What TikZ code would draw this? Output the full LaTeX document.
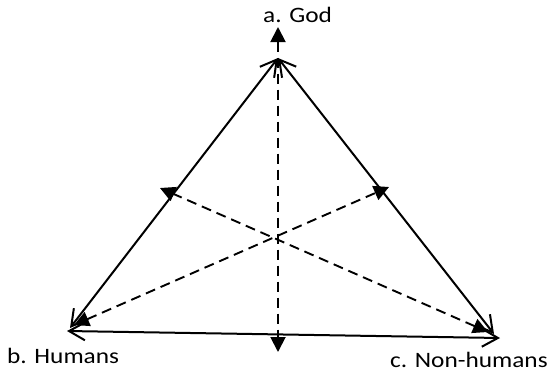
\documentclass[tikz,border=0pt]{standalone}
\usepackage{fontspec}
\setmainfont{Carlito}[FakeStretch=1.15]
\usetikzlibrary{arrows.meta}
\begin{document}
\begin{tikzpicture}[x=1pt,y=-1pt,
  barb/.tip={Straight Barb[length=16pt,width=18pt,line width=2pt]},
  tri/.tip={Triangle[length=15pt,width=15pt]},
  solidedge/.style={line width=2pt,barb-barb},
  dashedge/.style={line width=1.9pt,dash pattern=on 10pt off 6pt,tri-tri},
  lbl/.style={font=\fontsize{22}{26}\selectfont,inner sep=0pt,anchor=base west}]
\useasboundingbox (0,0) rectangle (550,373);
\coordinate (A) at (278,58);
\coordinate (Bl) at (70,328);
\coordinate (Bb) at (67,331);
\coordinate (Cl) at (494,334);
\coordinate (Cb) at (500,338);
\coordinate (vt) at (278,27);
\coordinate (vb) at (278,352);
\coordinate (d1s) at (74,325);
\coordinate (d1e) at (389,187);
\coordinate (d2s) at (488,332);
\coordinate (d2e) at (160,188);
\draw[solidedge] (A) -- (Bl);
\draw[solidedge] (A) -- (Cl);
\draw[solidedge] (Bb) -- (Cb);
\draw[dashedge] (vt) -- (vb);
\draw[dashedge] (d1s) -- (d1e);
\draw[dashedge] (d2s) -- (d2e);
\node[lbl] (god) at (263,22) {a. God};
\node[lbl] (hum) at (7,363) {b. Humans};
\node[lbl] (non) at (390,367) {c. Non-humans};
\end{tikzpicture}
\end{document}
